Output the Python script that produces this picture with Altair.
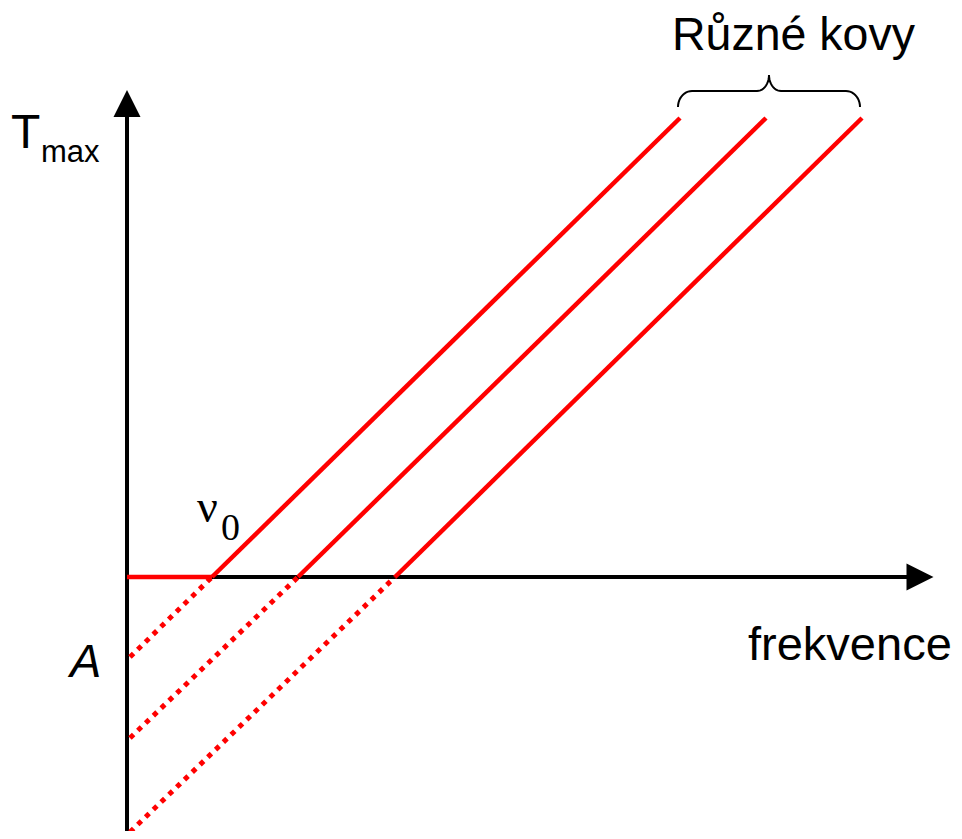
import altair as alt
import pandas as pd
import numpy as np

# ---- data (arbitrary units, 1 unit ~ 1 px) ----
metals = ["kov 1", "kov 2", "kov 3"]
threshold = [85, 171, 268]        # threshold frequency nu_0 of each metal
intercept = [-80, -161, -255]     # extrapolated value near f = 0 (−A)
top_x = [553, 639, 735]           # frequency at top end of each line
top_y = 459                       # T_max at top end of each line
left_x = 3                        # where dotted extrapolation ends

# ---- geometry of the schematic axes ----
X_AXIS_END = 780
Y_AXIS_END = 460
Y_AXIS_BOTTOM = -262

xs = alt.Scale(domain=[-119, 827], nice=False, zero=False)
ys = alt.Scale(domain=[-254, 569], nice=False, zero=False)

RED = "#ff0000"


def X(f="x"):
    return alt.X(f + ":Q", scale=xs, axis=None)


def Y(f="y"):
    return alt.Y(f + ":Q", scale=ys, axis=None)


solid = pd.DataFrame(
    [(m, t, 0) for m, t in zip(metals, threshold)]
    + [(m, tx, top_y) for m, tx in zip(metals, top_x)],
    columns=["metal", "x", "y"],
)
dotted = pd.DataFrame(
    [(m, left_x, a) for m, a in zip(metals, intercept)]
    + [(m, t, 0) for m, t in zip(metals, threshold)],
    columns=["metal", "x", "y"],
)
flat = pd.DataFrame({"x": [0, threshold[0]], "y": [0, 0]})

axes_df = pd.DataFrame(
    {
        "x": [0, 0],
        "x2": [0, X_AXIS_END],
        "y": [Y_AXIS_BOTTOM, 0],
        "y2": [Y_AXIS_END, 0],
    }
)

axes = alt.Chart(axes_df).mark_rule(color="black", strokeWidth=4).encode(
    x=X(), x2="x2:Q", y=Y(), y2="y2:Q"
)

arrow_y = alt.Chart(pd.DataFrame({"x": [0], "y": [473.5]})).mark_point(
    shape="M0,-1L1,1L-1,1Z", filled=True, size=729, color="black", opacity=1, strokeWidth=0
).encode(x=X(), y=Y())
arrow_x = alt.Chart(pd.DataFrame({"x": [793], "y": [0]})).mark_point(
    shape="M1,0L-1,-1L-1,1Z", filled=True, size=729, color="black", opacity=1, strokeWidth=0
).encode(x=X(), y=Y())

solid_lines = alt.Chart(solid).mark_line(color=RED, strokeWidth=4.5).encode(
    x=X(), y=Y(), detail="metal:N"
)
dotted_lines = alt.Chart(dotted).mark_line(
    color=RED, strokeWidth=5, strokeDash=[5, 5.8]
).encode(x=X(), y=Y(), detail="metal:N")
flat_line = alt.Chart(flat).mark_line(color=RED, strokeWidth=4.5).encode(x=X(), y=Y())

# ---- curly brace spanning the tops of the lines ----
x0, x1 = top_x[0] - 2, top_x[-1] - 2
xc = (x0 + x1) / 2
yb, yh, yt = 470, 486, 502
rx_end, rx_mid = 14, 12
pts = []
t = np.linspace(np.pi, np.pi / 2, 12)
pts += list(zip(x0 + rx_end + rx_end * np.cos(t), yb + (yh - yb) * np.sin(t)))
t = np.linspace(-np.pi / 2, 0, 12)
pts += list(zip(xc - rx_mid + rx_mid * np.cos(t), yt + (yt - yh) * np.sin(t)))
t = np.linspace(np.pi, 3 * np.pi / 2, 12)
pts += list(zip(xc + rx_mid + rx_mid * np.cos(t), yt + (yt - yh) * np.sin(t)))
t = np.linspace(np.pi / 2, 0, 12)
pts += list(zip(x1 - rx_end + rx_end * np.cos(t), yb + (yh - yb) * np.sin(t)))
brace_df = pd.DataFrame(pts, columns=["x", "y"])
brace_df["o"] = range(len(brace_df))
brace = alt.Chart(brace_df).mark_line(color="black", strokeWidth=2).encode(
    x=X(), y=Y(), order="o:Q"
)


def text_layer(label, x, y, size, font="Liberation Sans", style="normal"):
    d = pd.DataFrame({"x": [x], "y": [y], "t": [label]})
    return alt.Chart(d).mark_text(
        align="left", baseline="alphabetic", font=font, fontSize=size,
        fontStyle=style, color="black"
    ).encode(x=X(), y=Y(), text="t:N")


texts = [
    text_layer("Různé kovy", 545, 527, 46.5),
    text_layer("frekvence", 621, -83, 47),
    text_layer("T", -116, 429, 48),
    text_layer("max", -86, 415, 31),
    text_layer("A", -57, -100, 47, style="italic"),
    text_layer("ν", 70, 55, 46, font="Liberation Serif"),
    text_layer("0", 94, 37, 38, font="Liberation Serif"),
]

chart = alt.layer(
    axes, arrow_y, arrow_x, dotted_lines, solid_lines, flat_line, brace, *texts
).properties(
    width=946, height=823, padding=0, autosize=alt.AutoSizeParams(type="none"),
    background="white",
).configure_view(stroke=None)

chart.save("out.html", embed_options={"renderer": "svg", "actions": False})
